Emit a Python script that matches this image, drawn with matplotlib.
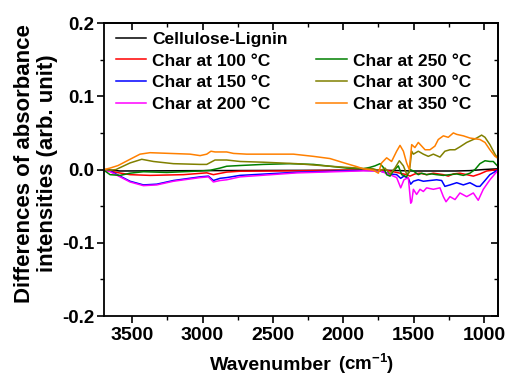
import matplotlib
matplotlib.use("Agg")
import matplotlib.pyplot as plt
from matplotlib.ticker import MultipleLocator, FixedLocator, FuncFormatter
from matplotlib.lines import Line2D
from matplotlib.offsetbox import TextArea, HPacker, AnchoredOffsetbox

plt.rcParams['font.family'] = ['Liberation Sans', 'DejaVu Sans']
plt.rcParams['font.weight'] = 'bold'
plt.rcParams['mathtext.fontset'] = 'custom'
plt.rcParams['mathtext.bf'] = 'Liberation Sans:bold'
plt.rcParams['mathtext.rm'] = 'Liberation Sans:bold'
plt.rcParams['mathtext.it'] = 'Liberation Sans:bold'
plt.rcParams['mathtext.default'] = 'rm'

# ---- data ----
wn_cl = [3700, 3586, 3000, 2000, 1700, 1500, 1200, 1100, 1000, 900]
cl = [0.0, -0.002, -0.0015, -0.001, -0.001, -0.002, -0.002, -0.0015, 0.0, 0.001]

wn_100 = [3700, 3610, 3515, 3373, 3135, 2970, 2923, 2828, 2733, 2331, 1857, 1691,
          1596, 1549, 1525, 1490, 1454, 1407, 1359, 1288, 1253, 1217, 1170, 1122,
          1075, 1028, 980, 904]
c100 = [0.0, -0.004, -0.007, -0.008, -0.007, -0.0045, -0.007, -0.0035, -0.0023, -0.0018,
        -0.0005, -0.001, -0.005, -0.007, -0.009, -0.006, -0.005, -0.007, -0.005, -0.007,
        -0.009, -0.006, -0.005, -0.007, -0.009, -0.006, -0.002, 0.0]

wn_150 = [3700, 3657, 3586, 3515, 3420, 3325, 3207, 3017, 2958, 2923, 2875, 2828,
          2733, 2331, 1857, 1738, 1667, 1620, 1591, 1568, 1537, 1520, 1501, 1466,
          1430, 1383, 1336, 1300, 1277, 1241, 1193, 1146, 1099, 1051, 1028, 992, 957, 904]
c150 = [0.0, -0.002, -0.009, -0.016, -0.021, -0.020, -0.015, -0.010, -0.009, -0.015,
        -0.012, -0.011, -0.008, -0.0037, -0.001, -0.002, -0.006, -0.007, -0.012, -0.009,
        -0.012, -0.020, -0.016, -0.014, -0.016, -0.015, -0.014, -0.015, -0.023, -0.021,
        -0.018, -0.021, -0.018, -0.023, -0.023, -0.015, -0.007, -0.001]

wn_200 = [3700, 3657, 3586, 3515, 3420, 3325, 3207, 3017, 2958, 2923, 2875, 2828,
          2733, 2331, 1857, 1738, 1667, 1620, 1591, 1568, 1537, 1520, 1513, 1501,
          1478, 1454, 1430, 1407, 1359, 1312, 1288, 1269, 1241, 1205, 1170, 1122,
          1075, 1040, 1004, 957, 904]
c200 = [-0.001, -0.003, -0.010, -0.017, -0.022, -0.021, -0.016, -0.011, -0.010, -0.017,
        -0.015, -0.014, -0.010, -0.0046, -0.0018, -0.002, -0.007, -0.011, -0.025, -0.014,
        -0.011, -0.046, -0.044, -0.027, -0.034, -0.027, -0.030, -0.025, -0.027, -0.025,
        -0.037, -0.044, -0.037, -0.041, -0.032, -0.037, -0.032, -0.042, -0.027, -0.014,
        -0.002]

wn_250 = [3700, 3657, 3586, 3515, 3420, 3254, 3017, 2946, 2875, 2828, 2733, 2568,
          2378, 2212, 2094, 1975, 1857, 1809, 1774, 1738, 1715, 1691, 1667, 1644,
          1608, 1584, 1549, 1525, 1501, 1466, 1442, 1407, 1371, 1336, 1288, 1241,
          1193, 1146, 1099, 1063, 1028, 992, 957, 933, 904]
c250 = [-0.001, -0.007, -0.008, -0.005, -0.003, -0.004, -0.002, -0.001, 0.002, 0.0045,
        0.0055, 0.007, 0.008, 0.007, 0.0045, 0.002, 0.001, 0.003, 0.005, 0.008, 0.003,
        -0.007, -0.009, -0.002, 0.005, -0.007, -0.010, 0.0, -0.002, -0.007, -0.005,
        -0.007, -0.006, -0.007, -0.008, -0.007, -0.006, -0.008, -0.005, 0.0, 0.008,
        0.012, 0.011, 0.011, 0.005]

wn_300 = [3700, 3657, 3615, 3515, 3432, 3349, 3207, 3017, 2970, 2911, 2828, 2733,
          2568, 2331, 2094, 1857, 1786, 1738, 1703, 1667, 1632, 1601, 1572, 1549,
          1530, 1513, 1501, 1466, 1430, 1395, 1359, 1312, 1277, 1241, 1205, 1170,
          1122, 1075, 1051, 1016, 992, 957, 921, 904]
c300 = [0.0, -0.001, 0.0, 0.009, 0.014, 0.011, 0.008, 0.007, 0.007, 0.013, 0.013,
        0.011, 0.010, 0.008, 0.0045, 0.0015, 0.001, -0.002, 0.002, -0.006, 0.002, 0.012,
        0.005, -0.006, -0.004, 0.025, 0.021, 0.025, 0.021, 0.018, 0.021, 0.017, 0.025,
        0.027, 0.027, 0.031, 0.037, 0.041, 0.043, 0.047, 0.044, 0.034, 0.021, 0.016]

wn_350 = [3700, 3657, 3600, 3515, 3444, 3373, 3231, 3088, 3017, 2970, 2940, 2911,
          2828, 2780, 2686, 2449, 2354, 2212, 2094, 1975, 1904, 1857, 1786, 1750,
          1727, 1691, 1656, 1620, 1596, 1572, 1549, 1530, 1513, 1490, 1466, 1442,
          1418, 1383, 1348, 1324, 1288, 1253, 1217, 1193, 1146, 1099, 1063, 1028,
          992, 957, 921, 904]
c350 = [0.0, 0.002, 0.0055, 0.014, 0.021, 0.023, 0.022, 0.021, 0.019, 0.021, 0.025,
        0.024, 0.024, 0.022, 0.021, 0.021, 0.021, 0.018, 0.015, 0.008, 0.004, 0.001,
        -0.001, -0.005, 0.009, 0.016, 0.011, 0.025, 0.033, 0.025, 0.009, 0.0, 0.034,
        0.030, 0.037, 0.032, 0.027, 0.027, 0.032, 0.041, 0.046, 0.044, 0.050, 0.048,
        0.046, 0.043, 0.042, 0.041, 0.037, 0.027, 0.018, 0.016]

labels = ['Cellulose-Lignin', 'Char at 100 °C', 'Char at 150 °C', 'Char at 200 °C',
          'Char at 250 °C', 'Char at 300 °C', 'Char at 350 °C']
colors = ['#000000', '#ff0000', '#0000ff', '#ff00ff', '#008000', '#808000', '#ff8000']
series = [(wn_cl, cl), (wn_100, c100), (wn_150, c150), (wn_200, c200),
          (wn_250, c250), (wn_300, c300), (wn_350, c350)]
xticks_major = [3500, 3000, 2500, 2000, 1500, 1000]
xticks_minor = [3250, 2750, 2250, 1750, 1250]

W, H = 505, 378
fig = plt.figure(figsize=(W / 100, H / 100), dpi=100)
ax = fig.add_axes([0.206, 0.164, 0.780, 0.775])

handles = []
for (x, y), lab, col in zip(series, labels, colors):
    h, = ax.plot(x, y, color=col, lw=1.1, label=lab)
    handles.append(h)

ax.set_xlim(3700, 900)
ax.set_ylim(-0.2, 0.2)
ax.xaxis.set_major_locator(FixedLocator(xticks_major))
ax.xaxis.set_minor_locator(FixedLocator(xticks_minor))
ax.yaxis.set_major_locator(MultipleLocator(0.1))
ax.yaxis.set_minor_locator(MultipleLocator(0.05))
ax.yaxis.set_major_formatter(FuncFormatter(lambda v, p: f"{v:.1f}" if abs(v) > 1e-9 else "0.0"))

ax.tick_params(which='major', direction='out', length=5, width=1.2)
ax.tick_params(which='minor', direction='out', length=3, width=1.0)
ax.tick_params(axis='x', labelsize=14, pad=3)
ax.tick_params(axis='y', labelsize=13.5, pad=2)
for lab in ax.get_xticklabels() + ax.get_yticklabels():
    lab.set_fontweight('bold')

for s in ax.spines.values():
    s.set_linewidth(1.3)

secx = ax.secondary_xaxis('top')
secx.xaxis.set_major_locator(FixedLocator(xticks_major))
secx.xaxis.set_minor_locator(FixedLocator(xticks_minor))
secx.tick_params(which='major', direction='in', length=5, width=1.2, labeltop=False)
secx.tick_params(which='minor', direction='in', length=3, width=1.0)
secy = ax.secondary_yaxis('right')
secy.yaxis.set_major_locator(MultipleLocator(0.1))
secy.yaxis.set_minor_locator(MultipleLocator(0.05))
secy.tick_params(which='major', direction='in', length=5, width=1.2, labelright=False)
secy.tick_params(which='minor', direction='in', length=3, width=1.0)
for s in list(secx.spines.values()) + list(secy.spines.values()):
    s.set_linewidth(1.3)

# x label: "Wavenumber" + "(cm-1)"
t1 = TextArea('Wavenumber', textprops=dict(fontsize=14, fontweight='bold'))
t2 = TextArea(r'(cm$^{-1}$)', textprops=dict(fontsize=13.5, fontweight='bold'))
box = HPacker(children=[t1, t2], align='baseline', pad=0, sep=5)
anch = AnchoredOffsetbox(loc='center', child=box, pad=0, frameon=False, borderpad=0,
                         bbox_to_anchor=(0.598, 0.036), bbox_transform=fig.transFigure)
fig.add_artist(anch)

fig.text(0.072, 0.567, 'Differences of absorbance\nintensities (arb. unit)',
         rotation=90, ha='center', va='center', fontsize=16, fontweight='bold',
         linespacing=1.12, multialignment='center')

blank = Line2D([], [], color='none')
leg_handles = handles[:4] + [blank] + handles[4:]
leg_labels = labels[:4] + [''] + labels[4:]
ax.legend(leg_handles, leg_labels, ncol=2, loc='upper left', frameon=False,
          prop={'weight': 'bold', 'size': 12.5}, handlelength=1.75,
          handletextpad=0.35, labelspacing=0.37, columnspacing=1.65,
          bbox_to_anchor=(0.03, 0.97), borderaxespad=0, borderpad=0)

fig.savefig('out.png', dpi=100)
